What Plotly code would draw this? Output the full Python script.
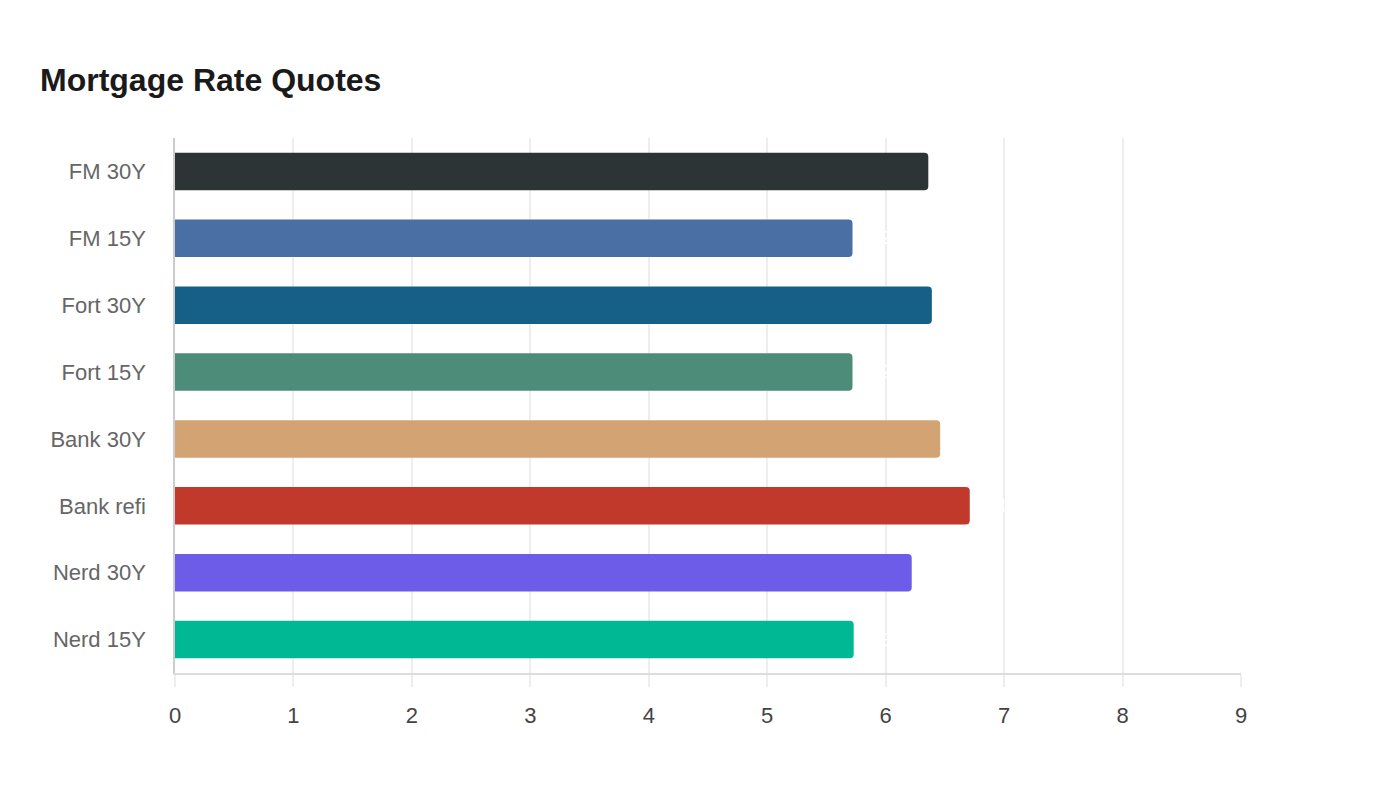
import plotly.graph_objects as go

categories = ["FM 30Y", "FM 15Y", "Fort 30Y", "Fort 15Y", "Bank 30Y", "Bank refi", "Nerd 30Y", "Nerd 15Y"]
rates = [6.36, 5.72, 6.39, 5.72, 6.46, 6.71, 6.22, 5.73]
colors = ["#2d3436", "#4a6fa5", "#166088", "#4e8c7a", "#d4a373", "#c0392b", "#6c5ce7", "#00b894"]
x_ticks = list(range(0, 10))

fig = go.Figure()
fig.add_trace(go.Bar(
    y=categories,
    x=rates,
    orientation="h",
    marker=dict(color=colors, line=dict(width=0)),
    text=[f"{v:.2f}%" for v in rates],
    textposition="outside",
    textfont=dict(color="#ffffff", size=18, family="Liberation Sans, Arial, sans-serif"),
    cliponaxis=False,
    hoverinfo="x+y",
))

fig.update_layout(
    width=1400, height=800,
    paper_bgcolor="#ffffff", plot_bgcolor="#ffffff",
    margin=dict(l=167, r=167, t=130, b=135),
    title=dict(text="<b>Mortgage Rate Quotes</b>", x=32/1400, xanchor="left",
               y=1-72/800, yanchor="middle",
               font=dict(size=32, color="#1a1a1a", family="Liberation Sans, Arial, sans-serif")),
    bargap=0.44,
    barcornerradius=4,
    showlegend=False,
    font=dict(family="Liberation Sans, Arial, sans-serif"),
)
fig.update_xaxes(
    range=[0, 9], tickvals=x_ticks, ticktext=[str(t) for t in x_ticks],
    showgrid=True, gridcolor="#eeeeee", gridwidth=1.5,
    zeroline=False,
    showline=True, linecolor="#dddddd", linewidth=1.5,
    ticks="outside", ticklen=12, tickcolor="#eeeeee", tickwidth=1.5,
    ticklabelstandoff=10,
    tickfont=dict(size=22, color="#444444"),
)
fig.update_yaxes(
    categoryorder="array", categoryarray=categories, autorange="reversed",
    showgrid=False, zeroline=False,
    showline=True, linecolor="#cccccc", linewidth=1.5,
    ticks="", ticklabelstandoff=23,
    tickfont=dict(size=22, color="#666666"),
)

fig.write_html("out.html")
